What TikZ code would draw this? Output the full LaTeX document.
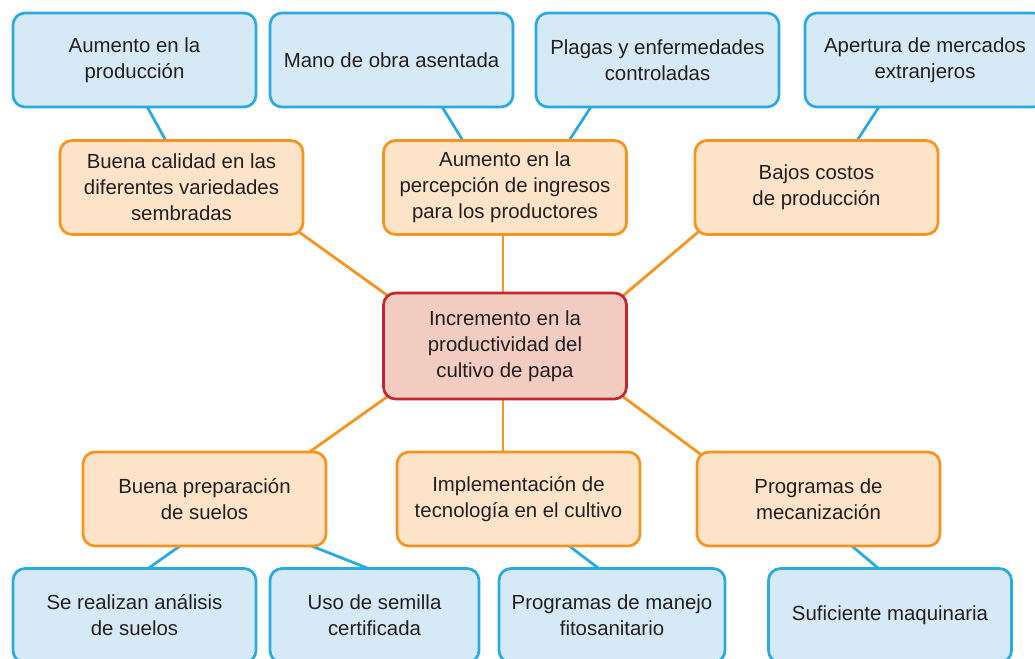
\documentclass[tikz,border=0pt]{standalone}
\usepackage{fontspec}
\setmainfont{Liberation Sans}
\usetikzlibrary{backgrounds}
\definecolor{mapblue}{HTML}{29ABE2}
\definecolor{mapbluefill}{HTML}{D6E9F6}
\definecolor{maporange}{HTML}{F7941D}
\definecolor{maporangefill}{HTML}{FDE3C8}
\definecolor{mapred}{HTML}{C1272D}
\definecolor{mapredfill}{HTML}{F2CCC1}
\definecolor{maptext}{HTML}{231F20}

\begin{document}
\begin{tikzpicture}[
  x=1pt, y=-1pt,
  font=\fontsize{20.4}{26}\selectfont,
  card/.style={rounded corners=12pt, line width=2.7pt, align=center, text=maptext, minimum width=243pt, minimum height=94pt, inner sep=0pt},
  effect/.style={card, draw=mapblue, fill=mapbluefill},
  cause/.style={card, draw=maporange, fill=maporangefill},
  core/.style={card, draw=mapred, fill=mapredfill, minimum height=106pt},
  bluelink/.style={draw=mapblue, line width=2.8pt, shorten <=-6pt, shorten >=-6pt},
  orangelink/.style={draw=maporange, line width=2.8pt, shorten <=-6pt, shorten >=-6pt}
]
\useasboundingbox (0,0) rectangle (1035,658);

% top row
\node[effect] (produccion) at (134.5,60) {Aumento en la\\producción};
\node[effect] (manodeobra) at (391.5,60) {Mano de obra asentada};
\node[effect] (plagas) at (657.5,60) {Plagas y enfermedades\\controladas};
\node[effect, minimum width=240pt] (mercados) at (925,60) {Apertura de mercados\\extranjeros};

\node[cause] (calidad) at (181.5,187.5) {Buena calidad en las\\diferentes variedades\\sembradas};
\node[cause] (ingresos) at (505,187.5) {Aumento en la\\percepción de ingresos\\para los productores};
\node[cause] (costos) at (816.5,187.5) {Bajos costos\\de producción};

% centre
\node[core] (incremento) at (505,346) {Incremento en la\\productividad del\\cultivo de papa};

% bottom row
\node[cause] (suelos) at (204.5,499) {Buena preparación\\de suelos};
\node[cause] (tecnologia) at (518.5,499) {Implementación de\\tecnología en el cultivo};
\node[cause] (mecanizacion) at (818.5,499) {Programas de\\mecanización};

\node[effect] (analisis) at (134.5,615.5) {Se realizan análisis\\de suelos};
\node[effect, minimum width=209pt] (semilla) at (374.5,615.5) {Uso de semilla\\certificada};
\node[effect, minimum width=226pt] (fitosanitario) at (612,615.5) {Programas de manejo\\fitosanitario};
\node[effect] (maquinaria) at (890,615.5) {Suficiente maquinaria};

\begin{scope}[on background layer]
\draw[bluelink] ([xshift=13.5pt]produccion.south) -- ([xshift=-16.5pt]calidad.north);
\draw[bluelink] ([xshift=51.5pt]manodeobra.south) -- ([xshift=-43pt]ingresos.north);
\draw[bluelink] ([xshift=-67.5pt]plagas.south) -- ([xshift=65pt]ingresos.north);
\draw[bluelink] ([xshift=-47pt]mercados.south) -- ([xshift=41.5pt]costos.north);

\draw[orangelink] (calidad.south east) -- (incremento.north west);
\draw[orangelink] ([xshift=-2pt]ingresos.south) -- ([xshift=-2pt]incremento.north);
\draw[orangelink] (costos.south west) -- (incremento.north east);
\draw[orangelink] (incremento.south west) -- ([xshift=-16pt]suelos.north east);
\draw[orangelink] ([xshift=-2pt]incremento.south) -- ([xshift=-2pt]incremento.south |- tecnologia.north);
\draw[orangelink] (incremento.south east) -- (mecanizacion.north west);

\draw[bluelink] ([xshift=-26.5pt]suelos.south) -- ([xshift=15.5pt]analisis.north);
\draw[bluelink] ([xshift=110.5pt]suelos.south) -- ([xshift=-9.5pt]semilla.north);
\draw[bluelink] ([xshift=52.5pt]tecnologia.south) -- ([xshift=-15pt]fitosanitario.north);
\draw[bluelink] ([xshift=35pt]mecanizacion.south) -- ([xshift=-13pt]maquinaria.north);
\end{scope}
\end{tikzpicture}
\end{document}
